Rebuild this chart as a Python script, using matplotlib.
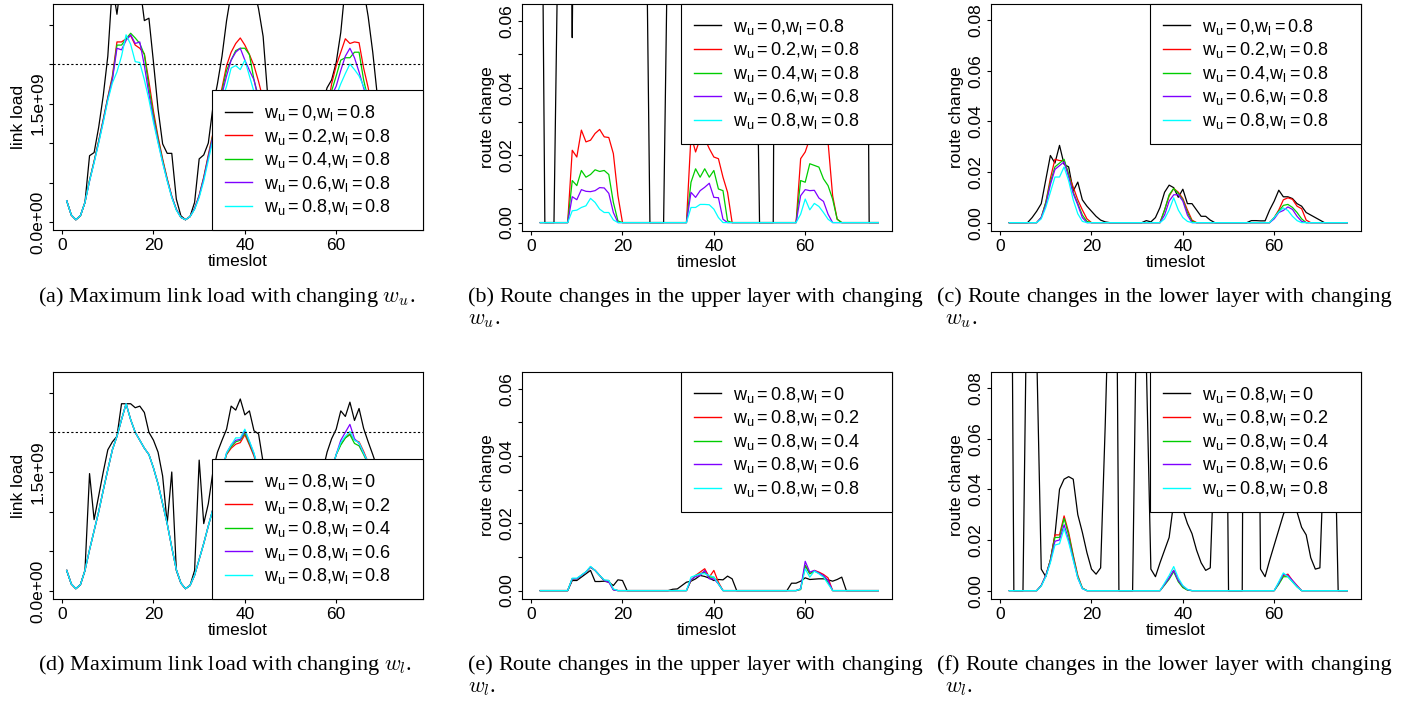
import numpy as np
import matplotlib
matplotlib.use('Agg')
import matplotlib.pyplot as plt

plt.rcParams['font.family'] = ['Liberation Sans', 'DejaVu Sans']
plt.rcParams['mathtext.fontset'] = 'cm'

W, H = 1424, 702

# ---------------- data ----------------
slots_load = np.arange(1, 77)    # timeslots of the link load panels
slots_route = np.arange(2, 77)   # timeslots of the route change panels

weights = ['0', '0.2', '0.4', '0.6', '0.8']
colors = ['black', '#FF0000', '#00CD00', '#7F00FF', '#00FFFF']
threshold_load = 2.0e9

# (a) max link load, changing w_u  (units of 1e9), timeslot 1..76
load_wu_0 = [0.27, 0.09, 0.03, 0.08, 0.25, 0.84, 0.88, 1.20, 1.60, 2.10,
             3.00, 2.63, 3.10, 3.30, 3.30, 3.10, 3.00, 2.55, 2.58, 2.02,
             1.43, 0.99, 0.87, 0.87, 0.29, 0.08, 0.03, 0.07, 0.25, 0.80,
             0.85, 1.00, 1.45, 1.75, 2.10, 2.55, 2.90, 3.30, 3.40, 3.30,
             3.10, 2.95, 2.70, 2.35, 1.60, 1.20, 0.90, 0.70, 0.50, 0.30,
             0.20, 0.30, 0.50, 0.80, 1.10, 1.35, 1.50, 1.70, 1.80, 2.02,
             2.40, 3.00, 3.30, 3.30, 3.10, 2.95, 2.60, 2.15, 1.60, 1.30,
             1.00, 0.75, 0.50, 0.35, 0.30, 0.35]
load_wu_02 = [0.27, 0.09, 0.03, 0.08, 0.25, 0.53, 0.77, 1.03, 1.30, 1.58,
              1.85, 2.28, 2.28, 2.32, 2.36, 2.24, 2.20, 2.13, 1.78, 1.40,
              1.08, 0.80, 0.55, 0.33, 0.16, 0.06, 0.03, 0.07, 0.17, 0.34,
              0.57, 0.85, 1.12, 1.42, 1.70, 1.98, 2.15, 2.26, 2.33, 2.24,
              2.12, 1.98, 1.78, 1.55, 1.15, 0.82, 0.56, 0.34, 0.17, 0.07,
              0.03, 0.07, 0.17, 0.34, 0.57, 0.85, 1.12, 1.42, 1.75, 1.98,
              2.15, 2.32, 2.26, 2.28, 2.27, 1.95, 1.70, 1.40, 1.08, 0.80,
              0.55, 0.33, 0.17, 0.07, 0.04, 0.08]
load_wu_04 = [0.27, 0.09, 0.03, 0.08, 0.25, 0.53, 0.77, 1.02, 1.29, 1.57,
              1.82, 2.24, 2.24, 2.32, 2.39, 2.33, 2.26, 2.12, 1.70, 1.35,
              1.05, 0.78, 0.54, 0.32, 0.16, 0.06, 0.03, 0.07, 0.17, 0.33,
              0.56, 0.83, 1.10, 1.39, 1.66, 1.92, 2.05, 2.17, 2.20, 2.20,
              2.12, 1.80, 1.58, 1.35, 1.08, 0.80, 0.55, 0.33, 0.16, 0.06,
              0.03, 0.07, 0.17, 0.33, 0.56, 0.83, 1.10, 1.39, 1.66, 1.85,
              2.05, 2.08, 2.08, 2.15, 2.15, 1.80, 1.55, 1.32, 1.05, 0.78,
              0.54, 0.32, 0.16, 0.07, 0.04, 0.08]
load_wu_06 = [0.27, 0.09, 0.03, 0.08, 0.25, 0.52, 0.76, 1.01, 1.28, 1.56,
              1.80, 2.20, 2.18, 2.30, 2.37, 2.26, 2.28, 1.98, 1.62, 1.30,
              1.02, 0.76, 0.53, 0.32, 0.16, 0.06, 0.03, 0.07, 0.17, 0.33,
              0.55, 0.82, 1.08, 1.36, 1.62, 1.85, 2.05, 2.15, 2.20, 2.05,
              1.92, 1.80, 1.55, 1.30, 1.04, 0.77, 0.53, 0.32, 0.16, 0.06,
              0.03, 0.07, 0.17, 0.33, 0.55, 0.80, 1.06, 1.34, 1.60, 1.72,
              1.92, 2.10, 2.20, 2.08, 1.90, 1.70, 1.52, 1.30, 1.04, 0.77,
              0.53, 0.32, 0.16, 0.07, 0.04, 0.08]
load_wu_08 = [0.27, 0.09, 0.03, 0.08, 0.25, 0.52, 0.75, 1.00, 1.26, 1.54,
              1.76, 1.90, 2.10, 2.37, 2.25, 2.03, 2.02, 1.80, 1.55, 1.26,
              1.00, 0.75, 0.52, 0.31, 0.15, 0.06, 0.03, 0.07, 0.16, 0.31,
              0.52, 0.78, 1.04, 1.32, 1.55, 1.72, 1.95, 1.98, 1.93, 2.05,
              1.85, 1.65, 1.50, 1.28, 1.02, 0.76, 0.52, 0.31, 0.15, 0.06,
              0.03, 0.07, 0.16, 0.31, 0.52, 0.76, 1.02, 1.28, 1.50, 1.60,
              1.75, 1.88, 2.00, 1.93, 1.85, 1.72, 1.60, 1.28, 1.02, 0.76,
              0.52, 0.31, 0.16, 0.07, 0.04, 0.08]

# (d) max link load, changing w_l  (units of 1e9), timeslot 1..76
load_wl_0 = [0.26, 0.09, 0.03, 0.08, 0.26, 1.48, 0.90, 1.20, 1.50, 1.78,
             1.88, 1.95, 2.36, 2.36, 2.36, 2.31, 2.33, 2.25, 2.00, 1.90,
             1.75, 1.45, 0.85, 1.50, 0.26, 0.10, 0.03, 0.07, 0.26, 1.65,
             0.85, 1.10, 1.50, 1.75, 1.90, 2.04, 2.33, 2.28, 2.42, 2.22,
             2.27, 2.02, 1.98, 1.62, 1.30, 1.00, 0.72, 0.48, 0.28, 0.14,
             0.08, 0.14, 0.28, 0.50, 0.80, 1.10, 1.50, 1.75, 1.92, 2.04,
             2.27, 2.20, 2.38, 2.15, 2.30, 2.05, 1.88, 1.72, 1.55, 1.20,
             0.85, 0.55, 0.30, 0.15, 0.08, 0.12]
load_wl_02 = [0.26, 0.09, 0.03, 0.08, 0.26, 0.52, 0.76, 1.00, 1.27, 1.53,
              1.78, 1.95, 2.16, 2.36, 2.16, 2.00, 1.90, 1.80, 1.72, 1.55,
              1.35, 1.10, 0.85, 0.55, 0.27, 0.10, 0.03, 0.07, 0.20, 0.40,
              0.60, 0.82, 1.03, 1.28, 1.52, 1.72, 1.80, 1.85, 1.87, 1.97,
              1.84, 1.70, 1.50, 1.28, 1.02, 0.76, 0.52, 0.31, 0.15, 0.06,
              0.03, 0.07, 0.16, 0.31, 0.52, 0.76, 1.02, 1.28, 1.52, 1.72,
              1.85, 1.93, 1.98, 1.90, 1.88, 1.76, 1.62, 1.40, 1.12, 0.85,
              0.58, 0.36, 0.18, 0.08, 0.04, 0.08]
load_wl_04 = [0.26, 0.09, 0.03, 0.08, 0.26, 0.52, 0.76, 1.00, 1.27, 1.53,
              1.78, 1.95, 2.16, 2.36, 2.16, 2.00, 1.90, 1.80, 1.72, 1.55,
              1.35, 1.10, 0.85, 0.55, 0.27, 0.10, 0.03, 0.07, 0.20, 0.40,
              0.60, 0.82, 1.03, 1.28, 1.52, 1.73, 1.82, 1.88, 1.90, 1.99,
              1.86, 1.72, 1.51, 1.28, 1.02, 0.76, 0.52, 0.31, 0.15, 0.06,
              0.03, 0.07, 0.16, 0.31, 0.52, 0.76, 1.02, 1.28, 1.52, 1.72,
              1.84, 1.93, 1.97, 1.86, 1.83, 1.72, 1.60, 1.40, 1.12, 0.85,
              0.58, 0.36, 0.18, 0.08, 0.04, 0.08]
load_wl_06 = [0.26, 0.09, 0.03, 0.08, 0.26, 0.52, 0.76, 1.00, 1.27, 1.53,
              1.78, 1.95, 2.16, 2.36, 2.16, 2.00, 1.90, 1.80, 1.72, 1.55,
              1.35, 1.10, 0.85, 0.55, 0.27, 0.10, 0.03, 0.07, 0.20, 0.40,
              0.60, 0.82, 1.03, 1.28, 1.52, 1.74, 1.84, 1.90, 1.91, 2.02,
              1.88, 1.73, 1.52, 1.28, 1.02, 0.76, 0.52, 0.31, 0.15, 0.06,
              0.03, 0.07, 0.16, 0.31, 0.52, 0.76, 1.02, 1.28, 1.52, 1.72,
              1.90, 2.00, 2.10, 1.92, 1.86, 1.74, 1.61, 1.40, 1.12, 0.85,
              0.58, 0.36, 0.18, 0.08, 0.04, 0.08]
load_wl_08 = [0.26, 0.09, 0.03, 0.08, 0.26, 0.52, 0.76, 1.00, 1.27, 1.53,
              1.78, 1.95, 2.16, 2.36, 2.16, 2.00, 1.90, 1.80, 1.72, 1.55,
              1.35, 1.10, 0.85, 0.55, 0.27, 0.10, 0.03, 0.07, 0.20, 0.40,
              0.60, 0.82, 1.03, 1.28, 1.52, 1.74, 1.84, 1.93, 1.93, 2.04,
              1.89, 1.74, 1.52, 1.28, 1.02, 0.76, 0.52, 0.31, 0.15, 0.06,
              0.03, 0.07, 0.16, 0.31, 0.52, 0.76, 1.02, 1.28, 1.52, 1.72,
              1.87, 1.95, 2.01, 1.90, 1.87, 1.74, 1.62, 1.40, 1.12, 0.85,
              0.58, 0.36, 0.18, 0.08, 0.04, 0.08]

# route changes in per mille, timeslot 2..76 (first row is 2..6, then 10 per row)
# (b) upper layer, changing w_u
up_wu_0 = [170, 0, 0, 0, 97,
           180, 200, 55, 200, 220, 230, 240, 245, 240, 230,
           220, 200, 180, 170, 160, 150, 140, 130, 118, 0,
           0, 0, 0, 97, 150, 190, 210, 225, 235, 240,
           240, 235, 225, 215, 200, 190, 180, 165, 150, 135,
           120, 105, 93, 0, 0, 0, 0, 270, 260, 250,
           240, 235, 230, 230, 225, 220, 215, 210, 205, 200,
           190, 180, 170, 160, 150, 130, 200, 0, 0, 0]
up_wu_02 = [0, 0, 0, 0, 0,
            0, 0, 21.5, 19.5, 27.5, 24, 24.5, 26.5, 27.7, 25.5,
            25.3, 20.5, 8, 0, 0, 0, 0, 0, 0, 0,
            0, 0, 0, 0, 0, 0, 0, 0, 26, 21,
            25, 25, 22, 19.5, 19, 13.5, 9, 0, 0, 0,
            0, 0, 0, 0, 0, 0, 0, 0, 0, 0,
            0, 0, 19, 21, 25, 24.5, 25, 27, 24, 8,
            1, 0, 0, 0, 0, 0, 0, 0, 0, 0]
up_wu_04 = [0, 0, 0, 0, 0,
            0, 0, 12.5, 11, 15.5, 13.5, 14.3, 15.7, 15.2, 15.5,
            14.3, 6, 0.5, 0, 0, 0, 0, 0, 0, 0,
            0, 0, 0, 0, 0, 0, 0, 0, 12, 16,
            13.5, 16, 13.5, 15.5, 10, 9.5, 0.5, 0, 0, 0,
            0, 0, 0, 0, 0, 0, 0, 0, 0, 0,
            0, 0, 12.5, 12, 17.5, 17, 16.5, 13, 11, 7,
            1, 0, 0, 0, 0, 0, 0, 0, 0, 0]
up_wu_06 = [0, 0, 0, 0, 0,
            0, 0, 7.7, 6.8, 9.8, 9.3, 9.2, 9.5, 10.4, 10.3,
            8.7, 3, 0, 0, 0, 0, 0, 0, 0, 0,
            0, 0, 0, 0, 0, 0, 0, 0, 9, 7.5,
            9.5, 10.5, 11.7, 7.5, 7.4, 1, 0, 0, 0, 0,
            0, 0, 0, 0, 0, 0, 0, 0, 0, 0,
            0, 0, 8, 9.8, 9.5, 9.6, 7.3, 6.3, 2.5, 0,
            0, 0, 0, 0, 0, 0, 0, 0, 0, 0]
up_wu_08 = [0, 0, 0, 0, 0,
            0, 0, 3.5, 3.7, 4.5, 5, 7.2, 6, 4, 3,
            3, 0.8, 0, 0, 0, 0, 0, 0, 0, 0,
            0, 0, 0, 0, 0, 0, 0, 0, 4.5, 4.5,
            5.4, 5.4, 5.3, 4, 1.5, 0, 0, 0, 0, 0,
            0, 0, 0, 0, 0, 0, 0, 0, 0, 0,
            0, 0, 2.5, 7, 3.8, 5.7, 4.8, 3, 1, 0,
            0, 0, 0, 0, 0, 0, 0, 0, 0, 0]

# (c) lower layer, changing w_u
low_wu_0 = [0, 0, 0, 0, 0,
            2, 4.5, 7.5, 17, 26.5, 23.5, 30.5, 23, 22, 12.5,
            16, 9, 6.5, 4.5, 2.5, 1, 0.3, 0, 0, 0,
            0, 0, 0, 0, 0, 0.8, 0.3, 2, 6, 12,
            14.8, 13.8, 10, 13.2, 7.5, 7.5, 5, 2.5, 2.5, 1,
            0, 0, 0, 0, 0, 0, 0, 0, 0.8, 0.8,
            0.7, 0.7, 5, 8.5, 12.8, 10.2, 10.2, 9.5, 7.5, 6.5,
            4, 3, 2, 1, 0, 0, 0, 0, 0, 0]
low_wu_02 = [0, 0, 0, 0, 0,
             0, 0, 2, 8, 17.5, 25, 24.5, 24.5, 19, 14,
             9, 5, 1.5, 0, 0, 0, 0, 0, 0, 0,
             0, 0, 0, 0, 0, 0, 0, 0, 0, 5,
             10.5, 13.5, 12, 9.5, 5, 1, 0, 0, 0, 0,
             0, 0, 0, 0, 0, 0, 0, 0, 0, 0,
             0, 0, 0, 2, 5, 9, 9.8, 9.2, 6.5, 5.5,
             1, 0, 0, 0, 0, 0, 0, 0, 0, 0]
low_wu_04 = [0, 0, 0, 0, 0,
             0, 0, 2, 8, 16, 22, 23.5, 25, 19, 12,
             7.5, 3, 0.5, 0, 0, 0, 0, 0, 0, 0,
             0, 0, 0, 0, 0, 0, 0, 0, 0, 5,
             11, 13.5, 11.5, 9, 4, 0.5, 0, 0, 0, 0,
             0, 0, 0, 0, 0, 0, 0, 0, 0, 0,
             0, 0, 0, 2, 4.5, 6.8, 7.2, 6, 4, 1.5,
             0, 0, 0, 0, 0, 0, 0, 0, 0, 0]
low_wu_06 = [0, 0, 0, 0, 0,
             0, 0, 2, 7, 15, 21, 22.5, 24, 18, 11.5,
             7, 2, 0, 0, 0, 0, 0, 0, 0, 0,
             0, 0, 0, 0, 0, 0, 0, 0, 0, 3,
             8.5, 11, 11, 8.5, 3, 0, 0, 0, 0, 0,
             0, 0, 0, 0, 0, 0, 0, 0, 0, 0,
             0, 0, 0, 1.5, 4, 4.8, 6.2, 5.2, 2.5, 0.5,
             0, 0, 0, 0, 0, 0, 0, 0, 0, 0]
low_wu_08 = [0, 0, 0, 0, 0,
             0, 0, 1.5, 6, 12, 18, 18, 22, 16.5, 9,
             3.5, 0.5, 0, 0, 0, 0, 0, 0, 0, 0,
             0, 0, 0, 0, 0, 0, 0, 0, 0, 1.5,
             5, 9.8, 5, 2, 0.5, 0, 0, 0, 0, 0,
             0, 0, 0, 0, 0, 0, 0, 0, 0, 0,
             0, 0, 0, 2, 4.2, 5.8, 4.8, 2.5, 0.8, 0,
             0, 0, 0, 0, 0, 0, 0, 0, 0, 0]

# (e) upper layer, changing w_l
up_wl_0 = [0, 0, 0, 0, 0,
           0, 0, 3, 3, 4, 5, 6, 2.7, 2.7, 2.8,
           2.5, 1.5, 3.2, 3, 0, 0, 0, 0, 0, 0,
           0, 0, 0, 0, 0.4, 0.5, 1.5, 2.5, 2.8, 3.5,
           4.5, 4.2, 3.7, 3, 3.3, 3.2, 4.3, 3.5, 0, 0,
           0, 0, 0, 0, 0, 0, 0, 0, 0, 0,
           2.2, 2.2, 2.8, 3.8, 3.3, 3.4, 3.5, 3.5, 3.2, 2.8,
           3.3, 4, 0, 0, 0, 0, 0, 0, 0, 0]
up_wl_02 = [0, 0, 0, 0, 0,
            0, 0, 3.5, 3.5, 4.5, 5.5, 7, 6, 4.5, 3,
            3, 0.3, 0, 0, 0, 0, 0, 0, 0, 0,
            0, 0, 0, 0, 0, 0, 0, 0, 3, 4.5,
            5.5, 6.5, 4, 6, 2.5, 0, 0, 0, 0, 0,
            0, 0, 0, 0, 0, 0, 0, 0, 0, 0,
            0, 0, 0.5, 7.5, 5, 6, 5.5, 4.8, 3.8, 0,
            0, 0, 0, 0, 0, 0, 0, 0, 0, 0]
up_wl_04 = [0, 0, 0, 0, 0,
            0, 0, 3.5, 3.5, 4.5, 5.5, 7, 6, 4.5, 3,
            2.8, 0.3, 0, 0, 0, 0, 0, 0, 0, 0,
            0, 0, 0, 0, 0, 0, 0, 0, 3, 4.5,
            5, 5.5, 4, 4, 2, 0, 0, 0, 0, 0,
            0, 0, 0, 0, 0, 0, 0, 0, 0, 0,
            0, 0, 0.3, 7.5, 5, 5.8, 5.2, 4.2, 2.5, 0,
            0, 0, 0, 0, 0, 0, 0, 0, 0, 0]
up_wl_06 = [0, 0, 0, 0, 0,
            0, 0, 3.5, 3.5, 4.5, 5.5, 7, 6, 4.5, 3,
            2.5, 0.2, 0, 0, 0, 0, 0, 0, 0, 0,
            0, 0, 0, 0, 0, 0, 0, 0, 3.2, 4.2,
            4.5, 6, 3.5, 3.5, 2, 0, 0, 0, 0, 0,
            0, 0, 0, 0, 0, 0, 0, 0, 0, 0,
            0, 0, 0.5, 8.7, 5.5, 6, 5.2, 4.5, 3, 0,
            0, 0, 0, 0, 0, 0, 0, 0, 0, 0]
up_wl_08 = [0, 0, 0, 0, 0,
            0, 0, 3.7, 3.7, 4.6, 5.6, 7.2, 6, 4.5, 3.2,
            3, 0.5, 0, 0, 0, 0, 0, 0, 0, 0,
            0, 0, 0, 0, 0, 0, 0, 0, 4, 4.5,
            5, 5, 4.5, 4, 2, 0, 0, 0, 0, 0,
            0, 0, 0, 0, 0, 0, 0, 0, 0, 0,
            0, 0, 0.5, 6.5, 4, 5.8, 5, 4, 2, 0,
            0, 0, 0, 0, 0, 0, 0, 0, 0, 0]

# (f) lower layer, changing w_l
low_wl_0 = [290, 0, 0, 0, 141,
            150, 95, 8.5, 5.5, 12, 22, 40, 44, 45, 44,
            30, 23, 15, 8.5, 6.5, 9, 65, 130, 250, 0,
            0, 0, 0, 130, 150, 90, 8.5, 5.5, 11, 16,
            21, 35, 40, 32, 26.5, 22.5, 16, 11, 8, 9,
            60, 150, 195, 0, 0, 0, 0, 400, 250, 218,
            8.5, 5.5, 12, 18, 24, 30, 35, 34, 31, 25,
            22, 13, 8.5, 9, 60, 150, 84, 0, 0, 0]
low_wl_02 = [0, 0, 0, 0, 0,
             0, 0, 2, 6, 12, 22, 22, 29.5, 23, 14,
             6, 1, 0, 0, 0, 0, 0, 0, 0, 0,
             0, 0, 0, 0, 0, 0, 0, 0, 0, 2.5,
             5, 8, 4, 1.5, 0.3, 0, 0, 0, 0, 0,
             0, 0, 0, 0, 0, 0, 0, 0, 0, 0,
             0, 0, 0, 0, 3, 6, 6.5, 4, 2, 0,
             0, 0, 0, 0, 0, 0, 0, 0, 0, 0]
low_wl_04 = [0, 0, 0, 0, 0,
             0, 0, 2, 6, 12, 21, 21, 28.5, 22, 13.5,
             5.5, 1, 0, 0, 0, 0, 0, 0, 0, 0,
             0, 0, 0, 0, 0, 0, 0, 0, 0, 2.2,
             4.5, 7.5, 3.5, 1.2, 0.2, 0, 0, 0, 0, 0,
             0, 0, 0, 0, 0, 0, 0, 0, 0, 0,
             0, 0, 0, 0, 2.5, 5.5, 5.5, 3.5, 1.5, 0,
             0, 0, 0, 0, 0, 0, 0, 0, 0, 0]
low_wl_06 = [0, 0, 0, 0, 0,
             0, 0, 2, 6, 11.5, 19.5, 20, 26, 20, 12.5,
             5, 0.8, 0, 0, 0, 0, 0, 0, 0, 0,
             0, 0, 0, 0, 0, 0, 0, 0, 0, 2.5,
             5, 8, 4, 1.8, 0.4, 0, 0, 0, 0, 0,
             0, 0, 0, 0, 0, 0, 0, 0, 0, 0,
             0, 0, 0, 0, 3, 6.5, 6, 4, 1.8, 0,
             0, 0, 0, 0, 0, 0, 0, 0, 0, 0]
low_wl_08 = [0, 0, 0, 0, 0,
             0, 0, 1.8, 5.5, 11, 18, 18.5, 24.5, 19, 12,
             5, 0.8, 0, 0, 0, 0, 0, 0, 0, 0,
             0, 0, 0, 0, 0, 0, 0, 0, 0, 3,
             6, 9.5, 5, 2, 0.5, 0, 0, 0, 0, 0,
             0, 0, 0, 0, 0, 0, 0, 0, 0, 0,
             0, 0, 0, 0, 3.5, 7, 5.5, 3.5, 1.5, 0,
             0, 0, 0, 0, 0, 0, 0, 0, 0, 0]

labels_wu = [r'$\mathregular{w_u = %s{,}w_l = 0.8}$' % w for w in weights]
labels_wl = [r'$\mathregular{w_u = 0.8{,}w_l = %s}$' % w for w in weights]

captions = [
    ('(a) Maximum link load with changing $w_u$.', None),
    ('(b) Route changes in the upper layer with changing', '$w_u$.'),
    ('(c) Route changes in the lower layer with changing', '$w_u$.'),
    ('(d) Maximum link load with changing $w_l$.', None),
    ('(e) Route changes in the upper layer with changing', '$w_l$.'),
    ('(f) Route changes in the lower layer with changing', '$w_l$.'),
]

# ---------------- figure ----------------
fig = plt.figure(figsize=(W / 100, H / 100), dpi=100)
FS = 12.5
LEG_FS = 13


def add_axes_px(left, top, right, bottom):
    return fig.add_axes([left / W, 1 - bottom / H, (right - left) / W, (bottom - top) / H])


def style(ax, ylabel, ylim, yticks, yticklabels):
    ax.set_xlim(-2, 79)
    ax.set_ylim(*ylim)
    ax.set_xticks([0, 20, 40, 60])
    ax.set_yticks(yticks)
    ax.set_yticklabels(yticklabels, rotation=90, va='center')
    ax.tick_params(direction='out', length=3, width=0.8, labelsize=FS, colors='black')
    ax.tick_params(axis='x', pad=2.5)
    ax.tick_params(axis='y', pad=2.5)
    for s in ax.spines.values():
        s.set_linewidth(0.8)
        s.set_color('black')
    ax.set_xlabel('timeslot', fontsize=FS, labelpad=1)
    ax.set_ylabel(ylabel, fontsize=FS, labelpad=3)


def add_legend(ax, labels, upper):
    handles = [plt.Line2D([], [], color=c, lw=1.0) for c in colors]
    loc = 'upper left' if upper else 'lower left'
    leg = ax.legend(handles, labels, loc=loc, bbox_to_anchor=(0.43, 0.0, 0.57, 1.0),
                    mode='expand', borderaxespad=0, fancybox=False,
                    framealpha=1, edgecolor='black', fontsize=LEG_FS, handlelength=1.5,
                    handletextpad=0.65, borderpad=0.7, labelspacing=0.2)
    leg.get_frame().set_linewidth(0.8)


load_ticks = [0, 0.5e9, 1.0e9, 1.5e9, 2.0e9, 2.5e9]
load_ticklabels = ['0.0e+00', '', '', '1.5e+09', '', '']
up_ticks = [0, 0.01, 0.02, 0.03, 0.04, 0.05, 0.06]
up_ticklabels = ['0.00', '', '0.02', '', '0.04', '', '0.06']
low_ticks = [0, 0.02, 0.04, 0.06, 0.08]
low_ticklabels = ['0.00', '0.02', '0.04', '0.06', '0.08']

panels = [
    # (pixel box, series, x, scale, kind, labels, legend top?)
    ((53, 4, 423, 230), [load_wu_0, load_wu_02, load_wu_04, load_wu_06, load_wu_08],
     slots_load, 1e9, 'load', labels_wu, False),
    ((522, 4, 892, 231), [up_wu_0, up_wu_02, up_wu_04, up_wu_06, up_wu_08],
     slots_route, 1e-3, 'up', labels_wu, True),
    ((991, 4, 1361, 231), [low_wu_0, low_wu_02, low_wu_04, low_wu_06, low_wu_08],
     slots_route, 1e-3, 'low', labels_wu, True),
    ((53, 372, 423, 599), [load_wl_0, load_wl_02, load_wl_04, load_wl_06, load_wl_08],
     slots_load, 1e9, 'load', labels_wl, False),
    ((522, 372, 892, 599), [up_wl_0, up_wl_02, up_wl_04, up_wl_06, up_wl_08],
     slots_route, 1e-3, 'up', labels_wl, True),
    ((991, 372, 1361, 599), [low_wl_0, low_wl_02, low_wl_04, low_wl_06, low_wl_08],
     slots_route, 1e-3, 'low', labels_wl, True),
]

for box, series, x, scale, kind, labels, upper in panels:
    ax = add_axes_px(*box)
    for vals, c in zip(series, colors):
        ax.plot(x, np.array(vals) * scale, color=c, lw=0.9)
    if kind == 'load':
        ax.axhline(threshold_load, color='black', lw=0.8, ls=(0, (2, 2)))
        style(ax, 'link load', (-0.1e9, 2.76e9), load_ticks, load_ticklabels)
    elif kind == 'up':
        style(ax, 'route change', (-0.0025, 0.065), up_ticks, up_ticklabels)
    else:
        style(ax, 'route change', (-0.0033, 0.0863), low_ticks, low_ticklabels)
    add_legend(ax, labels, upper)

# ---------------- captions ----------------
renderer = fig.canvas.get_renderer()
CAP_FS = 16
cap_x = [(38, 417), (468, 923), (937, 1392)]
second_indent = [0, 0, 8]
rows_y = [302, 670]
LINE = 22

for i, (line1, line2) in enumerate(captions):
    x0, x1 = cap_x[i % 3]
    y = rows_y[i // 3]
    if line2 is None:
        fig.text(x0 / W, 1 - y / H, line1, fontsize=CAP_FS, family='Liberation Serif',
                 va='baseline', ha='left')
        continue
    # justified first line
    words = line1.split(' ')
    texts = [fig.text(0, 0, w, fontsize=CAP_FS, family='Liberation Serif',
                      va='baseline', ha='left') for w in words]
    widths = [t.get_window_extent(renderer).width for t in texts]
    gap = (x1 - x0 - sum(widths)) / (len(words) - 1)
    xx = x0
    for t, wd in zip(texts, widths):
        t.set_position((xx / W, 1 - y / H))
        xx += wd + gap
    fig.text((x0 + second_indent[i % 3]) / W, 1 - (y + LINE) / H, line2, fontsize=CAP_FS,
             family='Liberation Serif', va='baseline', ha='left')

fig.savefig('out.png', dpi=100)
